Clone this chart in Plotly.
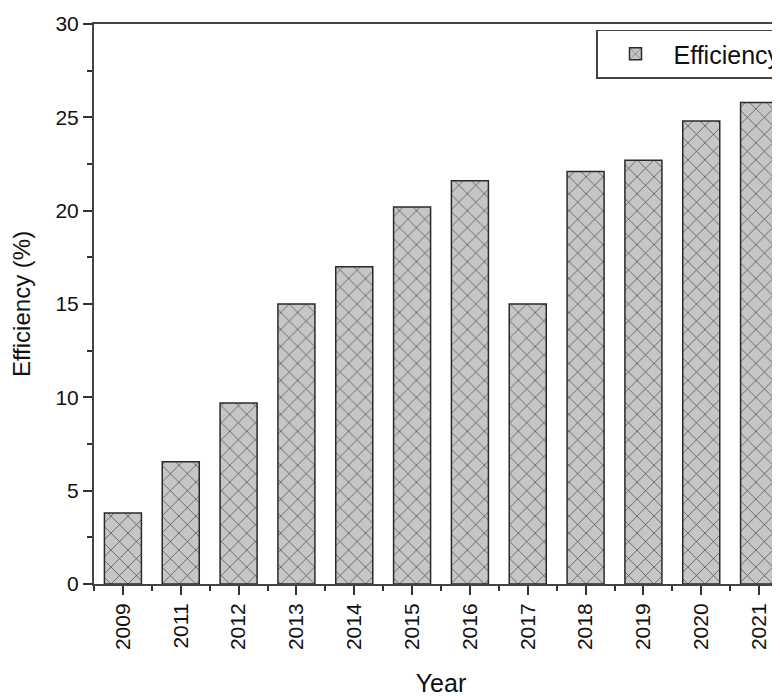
import plotly.graph_objects as go

years = ["2009", "2011", "2012", "2013", "2014", "2015", "2016", "2017", "2018", "2019", "2020", "2021"]
efficiency = [3.8, 6.55, 9.7, 15.0, 17.0, 20.2, 21.6, 15.0, 22.1, 22.7, 24.8, 25.8]
positions = list(range(len(years)))
y_ticks = [0, 5, 10, 15, 20, 25, 30]

fig = go.Figure()
fig.add_trace(go.Bar(
    x=positions, y=efficiency, name="Efficiency", width=0.64,
    marker=dict(color="#c6c6c6",
                line=dict(color="#2a2a2a", width=1.5),
                pattern=dict(shape="x", size=12, solidity=0.1,
                             fgcolor="#333333", bgcolor="#c6c6c6", fillmode="replace")),
    showlegend=True,
))

fig.update_layout(
    width=780, height=696,
    margin=dict(l=86, r=0, t=16, b=120),
    plot_bgcolor="white", paper_bgcolor="white",
    font=dict(family="Liberation Sans, Arial, sans-serif", size=21, color="#111"),
    showlegend=True,
    legend=dict(x=1.0, y=0.99, xanchor="right", yanchor="top",
                bordercolor="#444", borderwidth=1.5, bgcolor="white",
                font=dict(size=25, color="#111"), itemwidth=66, entrywidth=213),
    xaxis=dict(
        range=[-0.5, 11.5], tickmode="array", tickvals=positions, ticktext=years,
        tickangle=-90, ticks="outside", ticklen=9, tickwidth=2, tickcolor="#333",
        showline=True, mirror=True, linecolor="#444", linewidth=2,
        showgrid=False, zeroline=False,
        minor=dict(ticks="outside", ticklen=5, tickwidth=2, tickcolor="#333",
                   tick0=0.5, dtick=1, showgrid=False),
        title=dict(text="Year", font=dict(size=25), standoff=25),
        tickfont=dict(size=21), automargin=False,
    ),
    yaxis=dict(
        range=[0, 30], tickmode="array", tickvals=y_ticks,
        ticks="outside", ticklen=9, tickwidth=2, tickcolor="#333",
        showline=True, mirror=True, linecolor="#444", linewidth=2,
        showgrid=False, zeroline=False,
        minor=dict(ticks="outside", ticklen=5, tickwidth=2, tickcolor="#333",
                   tick0=0, dtick=2.5, showgrid=False),
        title=dict(text="Efficiency (%)", font=dict(size=24), standoff=20),
        tickfont=dict(size=21), automargin=False,
    ),
)

fig.write_html("out.html")
